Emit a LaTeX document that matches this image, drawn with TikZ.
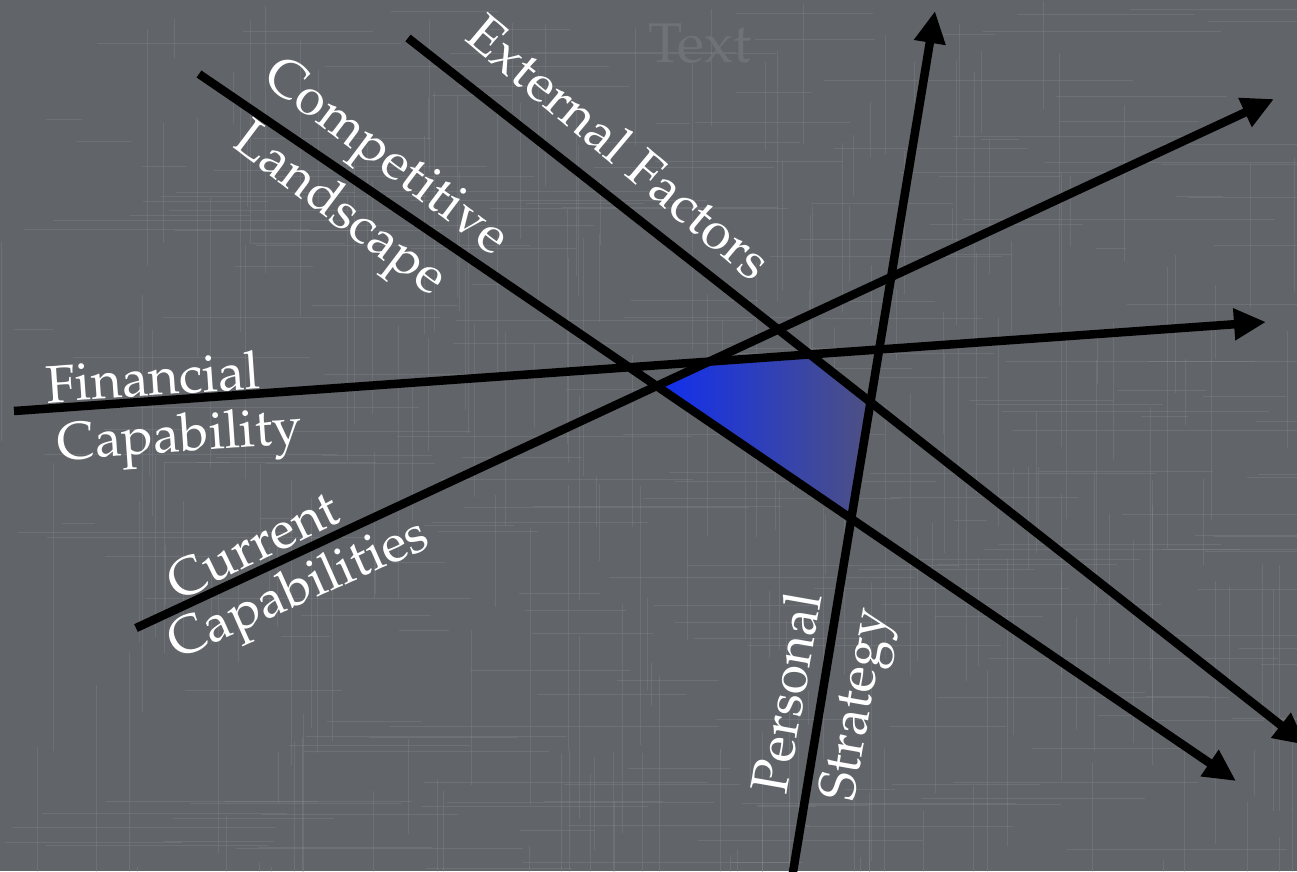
\documentclass[tikz,border=0pt]{standalone}
\IfFileExists{mathpazo.sty}{\usepackage[T1]{fontenc}\usepackage{mathpazo}}{\usepackage{fontspec}\setmainfont{Liberation Serif}}
\usetikzlibrary{arrows.meta}

\definecolor{bgcol}{HTML}{616468}
\definecolor{weave}{HTML}{8E9196}
\definecolor{ghost}{HTML}{6F7276}
\definecolor{zoneL}{HTML}{102EF0}
\definecolor{zoneR}{HTML}{4E5182}

\begin{document}
\begin{tikzpicture}[x=1pt,y=-1pt,
  axisline/.style={line width=8.5pt,-{Triangle[length=32pt,width=30pt]}},
  lbl/.style={text=white,font=\fontsize{53}{58}\selectfont,inner sep=0pt},
  ghosttext/.style={text=ghost,font=\fontsize{56}{60}\selectfont,inner sep=0pt},
  thread/.style={weave,opacity=0.28,line width=0.9pt}
]
\useasboundingbox (0,0) rectangle (1297,871);

% linen-like backdrop
\fill[bgcol] (0,0) rectangle (1297,871);
\begin{scope}
  \clip (0,0) rectangle (1297,871);
  \pgfmathsetseed{4217}
  \foreach \i in {1,...,220}{
    \pgfmathsetmacro\xx{rnd*1297}
    \pgfmathsetmacro\yy{rnd*871}
    \pgfmathsetmacro\ll{30+rnd*260}
    \draw[thread] (\xx,\yy) -- ++(0,\ll);
  }
  \foreach \i in {1,...,220}{
    \pgfmathsetmacro\xx{rnd*1297}
    \pgfmathsetmacro\yy{rnd*871}
    \pgfmathsetmacro\ll{30+rnd*300}
    \draw[thread] (\xx,\yy) -- ++(\ll,0);
  }
\end{scope}

% faint placeholder title
\node[ghosttext] (ghost) at (700,44) {Text};

% end points of the five axes
\coordinate (cl0) at (199,74);   \coordinate (cl1) at (1236,781);
\coordinate (ef0) at (408,38);   \coordinate (ef1) at (1306,745);
\coordinate (fc0) at (14,411);   \coordinate (fc1) at (1266,322);
\coordinate (cc0) at (136,628);  \coordinate (cc1) at (1274,99);
\coordinate (ps0) at (792,878);  \coordinate (ps1) at (935,11);

% the region enclosed by all five axes
\shade[left color=zoneL,right color=zoneR]
  (intersection of cl0--cl1 and cc0--cc1) --
  (intersection of cc0--cc1 and fc0--fc1) --
  (intersection of fc0--fc1 and ef0--ef1) --
  (intersection of ef0--ef1 and ps0--ps1) --
  (intersection of ps0--ps1 and cl0--cl1) -- cycle;

% axes
\draw[axisline] (cl0) -- (cl1);
\draw[axisline] (ef0) -- (ef1);
\draw[axisline] (fc0) -- (fc1);
\draw[axisline] (cc0) -- (cc1);
\draw[axisline] (ps0) -- (ps1);

% axis labels
\node[lbl,rotate=-37] (comp) at (384,160) {Competitive};
\node[lbl,rotate=-37] (land) at (338,212) {Landscape};
\node[lbl,rotate=-40] (ext)  at (620,147) {External Factors};
\node[lbl,rotate=4]   (fin)  at (153,377) {Financial};
\node[lbl,rotate=4]   (cap)  at (180,440) {Capability};
\node[lbl,rotate=26]  (cur)  at (253,545) {Current};
\node[lbl,rotate=24]  (caps) at (300,592) {Capabilities};
\node[lbl,rotate=80]  (pers) at (786,693) {Personal};
\node[lbl,rotate=80]  (strat) at (860,705) {Strategy};
\end{tikzpicture}
\end{document}
